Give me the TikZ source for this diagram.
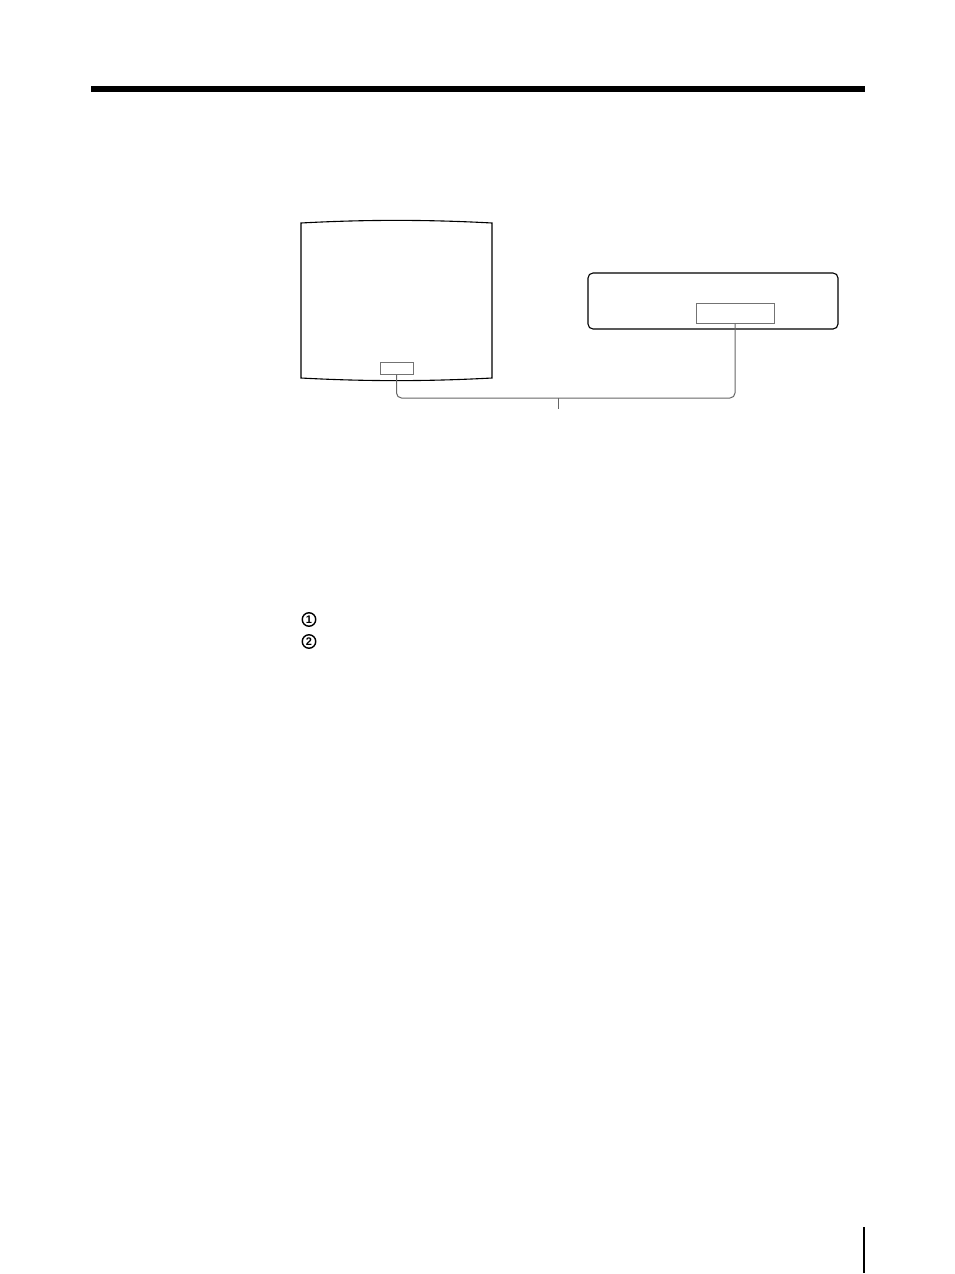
\documentclass[tikz,border=0pt]{standalone}
\usepackage{fontspec}
\setmainfont{Liberation Sans}
\begin{document}
\begin{tikzpicture}[x=1pt,y=-1pt,
  outline/.style={draw=black,line width=1.1pt},
  port/.style={draw=black!55,line width=1pt},
  cable/.style={draw=black!60,line width=1pt,rounded corners=5pt},
  num/.style={circle,draw=black,line width=1.4pt,inner sep=0pt,minimum size=13.5pt,font=\fontsize{11}{11}\selectfont\bfseries}]
\useasboundingbox (0,0) rectangle (954,1274);
% top rule
\fill[black] (91,86) rectangle (865,92);
% monitor
\draw[outline] (301,223) .. controls (366,219.5) and (427,219.5) .. (492,223)
  -- (492,378) .. controls (427,381.5) and (366,381.5) .. (301,378) -- cycle;
\node[port,rectangle,minimum width=33pt,minimum height=12pt,inner sep=0pt] (mport) at (396.5,368) {};
% device
\node[outline,rectangle,rounded corners=5pt,minimum width=250pt,minimum height=56pt,inner sep=0pt] (dev) at (713,301) {};
\node[port,rectangle,minimum width=78pt,minimum height=20pt,inner sep=0pt] (dport) at (735,313) {};
% cable
\coordinate (mid) at (558,398);
\draw[cable] (mport.south) |- (mid) -| (dport.south);
\coordinate (tick) at (558,409);
\draw[draw=black!60,line width=1pt] (mid) -- (tick);
% circled numbers
\node[num] (n1) at (309,619.5) {1};
\node[num] (n2) at (309,641.5) {2};
% page marker
\draw[line width=1.3pt] (864,1227) -- (864,1273);
\end{tikzpicture}
\end{document}
